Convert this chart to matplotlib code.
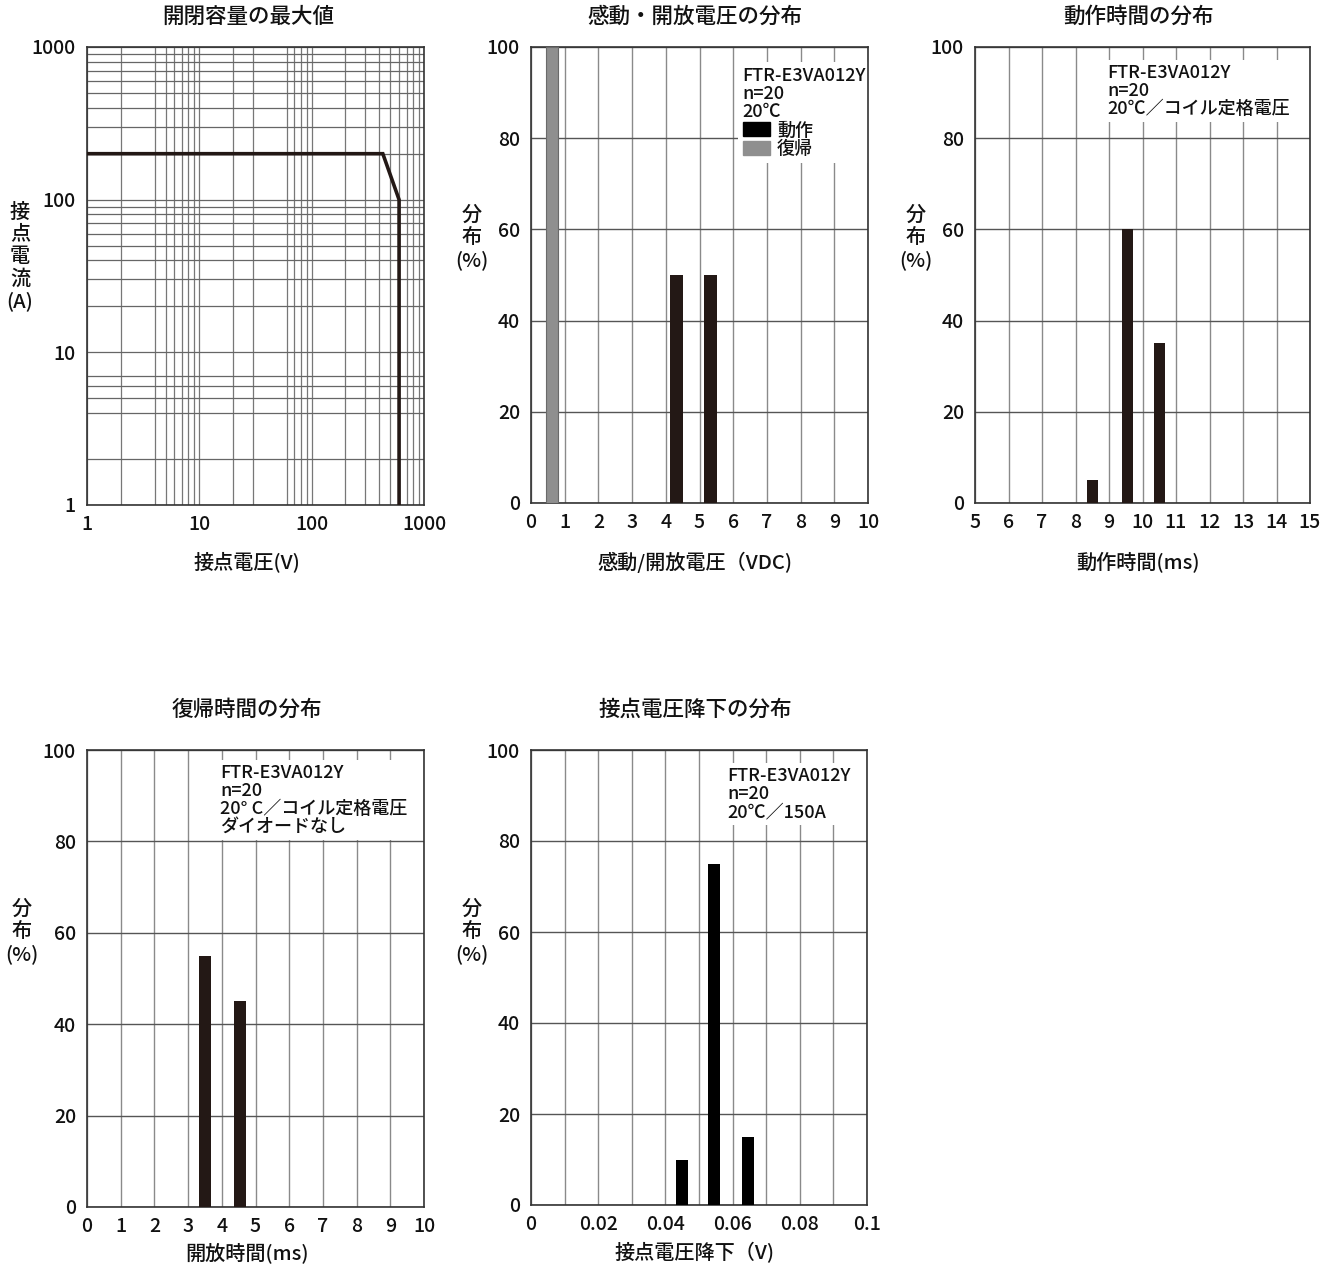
import matplotlib
matplotlib.use('Agg')
import matplotlib.pyplot as plt
from matplotlib.patches import Patch

plt.rcParams['font.family'] = ['Liberation Sans Narrow', 'Noto Sans CJK JP', 'DejaVu Sans']
plt.rcParams['font.weight'] = 'medium'

# ---------------- data ----------------
cap_voltage = [1, 430, 600, 600]          # V
cap_current = [200, 200, 100, 1]          # A

pick_x = [4.32, 5.32]
pick_pct = [50, 50]
drop_x = [0.63]
drop_pct = [100]

op_time_x = [8.5, 9.55, 10.5]
op_time_pct = [5, 60, 35]

rel_time_x = [3.5, 4.55]
rel_time_pct = [55, 45]

cvd_x = [0.045, 0.0545, 0.0645]
cvd_pct = [10, 75, 15]

y_ticks = [0, 20, 40, 60, 80, 100]

W, H = 1334, 1269
DARK = '#231815'
VGRID = '#8a8a8a'
HGRID = '#555555'
TXT = '#111111'
TICK_FS = 14
LABEL_FS = 14.5
TITLE_FS = 15.5
NOTE_FS = 13

fig = plt.figure(figsize=(W / 100, H / 100), dpi=100)
fig.patch.set_facecolor('white')


def make_axes(left, right, top, bottom):
    return fig.add_axes([left / W, 1 - bottom / H, (right - left) / W, (bottom - top) / H])


def px_to_axes(ax, px, py, left, right, top, bottom):
    return (px - left) / (right - left), (bottom - py) / (bottom - top)


def decorate(ax, box, title, title_xy, xlabel, xlabel_xy, ylabel, ylabel_xy):
    l, r, t, b = box
    tx, ty = px_to_axes(ax, *title_xy, l, r, t, b)
    ax.text(tx, ty, title, transform=ax.transAxes, ha='center', va='center',
            fontsize=TITLE_FS, color=TXT)
    xx, xy = px_to_axes(ax, *xlabel_xy, l, r, t, b)
    ax.text(xx, xy, xlabel, transform=ax.transAxes, ha='center', va='center',
            fontsize=LABEL_FS, color=TXT)
    yx, yy = px_to_axes(ax, *ylabel_xy, l, r, t, b)
    ax.text(yx, yy, ylabel, transform=ax.transAxes, ha='center', va='center',
            fontsize=LABEL_FS, color=TXT, linespacing=1.2)
    for s in ax.spines.values():
        s.set_color('#333333')
        s.set_linewidth(1.2)
    ax.tick_params(which='both', length=0, labelsize=TICK_FS, colors=TXT)
    ax.tick_params(axis='x', pad=7)
    ax.tick_params(axis='y', pad=8)


def dist_axes(box, xlim, xticks, xticklabels, xgrid):
    l, r, t, b = box
    ax = make_axes(l, r, t, b)
    ax.set_xlim(*xlim)
    ax.set_ylim(0, 100)
    ax.set_xticks(xticks, labels=xticklabels)
    ax.set_xticks(xgrid, minor=True)
    ax.set_yticks(y_ticks, labels=[str(v) for v in y_ticks])
    ax.grid(True, which='minor', axis='x', color=VGRID, lw=1.0)
    ax.grid(True, which='major', axis='x', color=VGRID, lw=1.0)
    ax.grid(True, which='major', axis='y', color=HGRID, lw=1.0)
    ax.set_axisbelow(True)
    return ax


def note(ax, box, xy, text):
    l, r, t, b = box
    x, y = px_to_axes(ax, *xy, l, r, t, b)
    ax.text(x, y, text, transform=ax.transAxes, ha='left', va='top', fontsize=NOTE_FS,
            color=TXT, linespacing=1.0,
            bbox=dict(facecolor='white', edgecolor='none', pad=3), zorder=1.5)


# ---------------- chart 1: log-log switching capacity ----------------
box1 = (87, 424, 47, 505)
ax1 = make_axes(*box1)
ax1.set_xscale('log')
ax1.set_yscale('log')
ax1.set_xlim(1, 1000)
ax1.set_ylim(1, 1000)
ax1.set_xticks([1, 10, 100, 1000], labels=['1', '10', '100', '1000'])
ax1.set_yticks([1, 10, 100, 1000], labels=['1', '10', '100', '1000'])
xminor = [2, 4, 5, 6, 7, 8, 9, 20, 30, 60, 70, 80, 90, 200, 300, 400, 500, 600, 700, 800, 900]
yminor = [2, 4, 5, 6, 7, 20, 30, 40, 50, 60, 70, 80, 90, 200, 300, 400, 500, 600, 700, 800, 900]
ax1.set_xticks(xminor, minor=True)
ax1.set_yticks(yminor, minor=True)
ax1.xaxis.set_minor_formatter(matplotlib.ticker.NullFormatter())
ax1.yaxis.set_minor_formatter(matplotlib.ticker.NullFormatter())
ax1.grid(True, which='both', axis='x', color='#777777', lw=0.9)
ax1.grid(True, which='both', axis='y', color='#666666', lw=0.9)
ax1.set_axisbelow(True)
ax1.plot(cap_voltage, cap_current, color=DARK, lw=2.6, solid_joinstyle='miter', zorder=3)
decorate(ax1, box1, '開閉容量の最大値', (248, 17), '接点電圧(V)', (247, 562),
         '接\n点\n電\n流\n(A)', (20, 257))

# ---------------- chart 2: pick-up / drop-out voltage ----------------
box2 = (531, 868, 47, 503)
ax2 = dist_axes(box2, (0, 10), list(range(0, 11)), [str(v) for v in range(0, 11)], [])
b_op = ax2.bar(pick_x, pick_pct, width=0.38, color=DARK, zorder=3)
b_rel = ax2.bar(drop_x, drop_pct, width=0.36, color='#8f8f8f', edgecolor='#6a6a6a', lw=0.8, zorder=3)
decorate(ax2, box2, '感動・開放電圧の分布', (695, 17), '感動/開放電圧（VDC)', (695, 562),
         '分\n布\n(%)', (472, 238))
lx, ly = px_to_axes(ax2, 738, 62, *box2)
leg = ax2.legend(handles=[Patch(facecolor='black', edgecolor='black'),
                          Patch(facecolor='#8f8f8f', edgecolor='#8f8f8f')],
                 labels=['動作', '復帰'], title='FTR-E3VA012Y\nn=20\n20℃',
                 alignment='left', loc='upper left', bbox_to_anchor=(lx, ly),
                 fontsize=NOTE_FS, title_fontsize=NOTE_FS, frameon=True, fancybox=False,
                 edgecolor='none', framealpha=1.0, borderpad=0.25, labelspacing=0.05,
                 handlelength=1.5, handleheight=0.8, handletextpad=0.4, borderaxespad=0)
leg.get_title().set_linespacing(1.0)
leg.get_title().set_color(TXT)
for t in leg.get_texts():
    t.set_color(TXT)
leg.set_zorder(1.5)

# ---------------- chart 3: operate time ----------------
box3 = (975, 1310, 47, 503)
ax3 = dist_axes(box3, (5, 15), list(range(5, 16)), [str(v) for v in range(5, 16)], [])
ax3.bar(op_time_x, op_time_pct, width=0.34, color=DARK, zorder=3)
decorate(ax3, box3, '動作時間の分布', (1138, 17), '動作時間(ms)', (1138, 562),
         '分\n布\n(%)', (916, 238))
note(ax3, box3, (1107, 64), 'FTR-E3VA012Y\nn=20\n20℃／コイル定格電圧')

# ---------------- chart 4: release time ----------------
box4 = (87, 424, 750, 1207)
ax4 = dist_axes(box4, (0, 10), list(range(0, 11)), [str(v) for v in range(0, 11)], [])
ax4.bar(rel_time_x, rel_time_pct, width=0.36, color=DARK, zorder=3)
decorate(ax4, box4, '復帰時間の分布', (247, 710), '開放時間(ms)', (247, 1253),
         '分\n布\n(%)', (22, 932))
note(ax4, box4, (220, 764), 'FTR-E3VA012Y\nn=20\n20° C／コイル定格電圧\nダイオードなし')

# ---------------- chart 5: contact voltage drop ----------------
box5 = (531, 867, 750, 1205)
ticks5 = [0, 0.02, 0.04, 0.06, 0.08, 0.1]
ax5 = dist_axes(box5, (0, 0.1), ticks5, ['0', '0.02', '0.04', '0.06', '0.08', '0.1'],
                [0.01, 0.03, 0.05, 0.07, 0.09])
ax5.bar(cvd_x, cvd_pct, width=0.0035, color='black', zorder=3)
decorate(ax5, box5, '接点電圧降下の分布', (695, 710), '接点電圧降下（V)', (695, 1253),
         '分\n布\n(%)', (472, 932))
note(ax5, box5, (727, 767), 'FTR-E3VA012Y\nn=20\n20℃／150A')

fig.savefig('out.png', dpi=100, facecolor='white')
